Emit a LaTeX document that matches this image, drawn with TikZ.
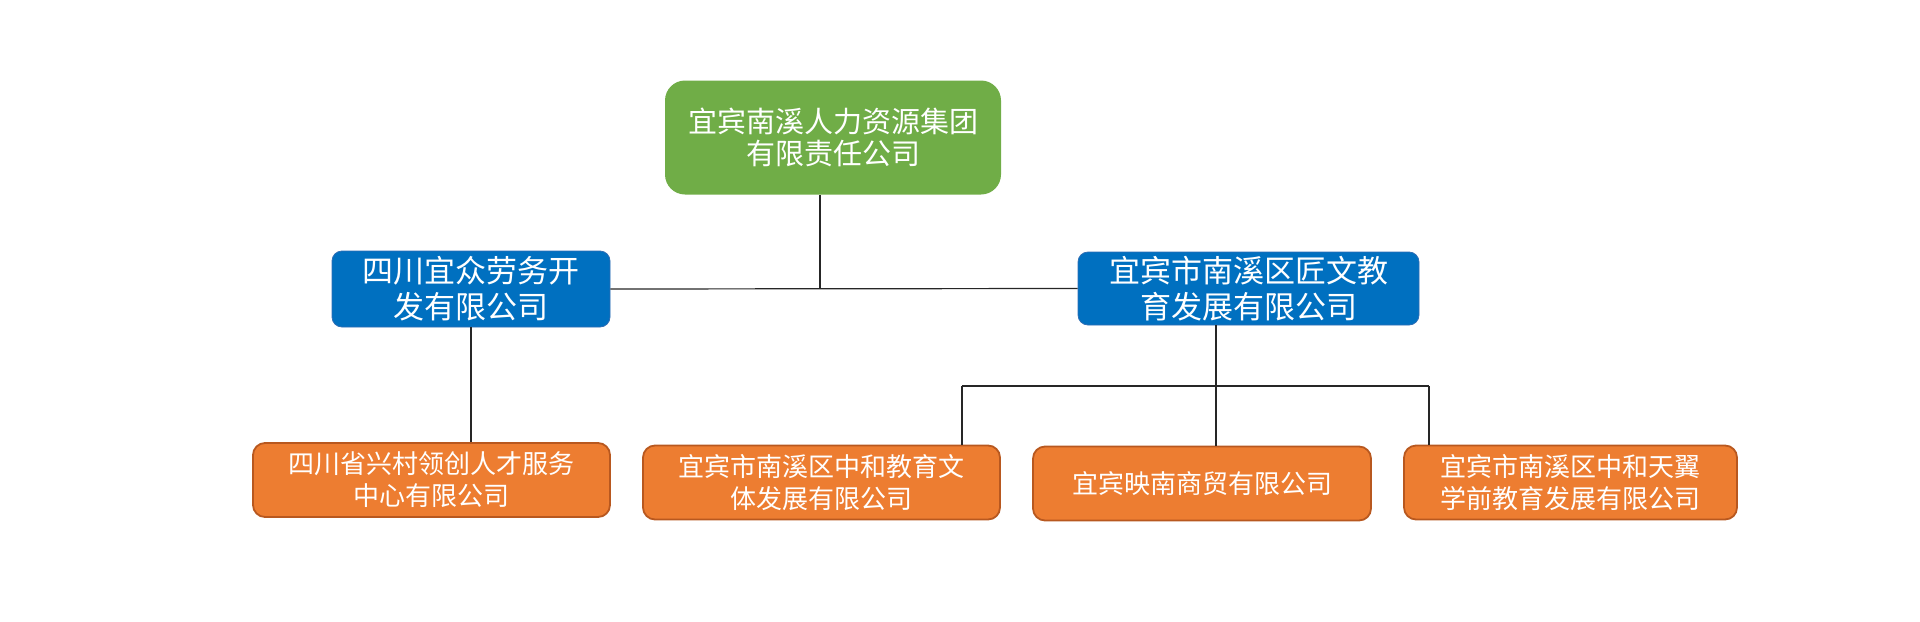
\documentclass[tikz,border=0pt]{standalone}
\usepackage{fontspec}
\setmainfont{Noto Sans CJK SC}
\usetikzlibrary{calc, positioning}

\definecolor{groupgreen}{HTML}{70AD47}
\definecolor{subblue}{HTML}{0070C0}
\definecolor{subblueline}{HTML}{2E6DB4}
\definecolor{unitorange}{HTML}{ED7D31}
\definecolor{unitorangeline}{HTML}{B8581F}
\definecolor{linkgray}{HTML}{262626}

\begin{document}
\begin{tikzpicture}[
    x=0.5pt, y=-0.5pt,
    every node/.style={
            rectangle,
            align=center,
            text=white,
            inner sep=0pt
        },
    group_block/.style={
            fill=groupgreen,
            rounded corners=10pt,
            minimum width=168pt,
            minimum height=57pt,
            font=\fontsize{14.5}{16}\selectfont
        },
    company_block/.style={
            fill=subblue,
            draw=subblueline,
            line width=0.4pt,
            rounded corners=5pt,
            font=\fontsize{15.5}{18}\selectfont
        },
    unit_block/.style={
            fill=unitorange,
            draw=unitorangeline,
            line width=0.9pt,
            rounded corners=6pt,
            minimum height=37pt,
            font=\fontsize{13}{16}\selectfont
        },
    link/.style={draw=linkgray, line width=0.6pt}
    ]

    \useasboundingbox (0,0) rectangle (1920,621);

    % --- Group ---
    \node (group) [group_block] at (833,137.5) {宜宾南溪人力资源集团\\有限责任公司};

    % --- Companies ---
    \node (labour) [company_block, minimum width=139pt, minimum height=38pt] at (471,289) {四川宜众劳务开\\发有限公司};
    \node (education) [company_block, minimum width=170.5pt, minimum height=36.5pt] at (1248.5,288.5) {宜宾市南溪区匠文教\\育发展有限公司};

    % --- Units ---
    \node (xingcun) [unit_block, minimum width=178.5pt] at (431.5,480) {四川省兴村领创人才服务\\中心有限公司};
    \node (zhonghe_culture) [unit_block, minimum width=178.5pt] at (821.5,482.5) {宜宾市南溪区中和教育文\\体发展有限公司};
    \node (yingnan) [unit_block, minimum width=169pt] at (1202,483.5) {宜宾映南商贸有限公司};
    \node (tianyi) [unit_block, minimum width=166.5pt] at (1570.5,482.5) {宜宾市南溪区中和天翼\\学前教育发展有限公司};

    % --- Junctions ---
    \coordinate (hub) at (820,289);
    \coordinate (bus_left) at (962,386);
    \coordinate (bus_mid) at (1216,386);
    \coordinate (bus_right) at (1429,386);

    % --- Links ---
    \draw[link] (group.south -| hub) -- (hub);
    \draw[link] (labour.east) -- (education.west);
    \draw[link] (labour.south) -- (labour.south |- xingcun.north);
    \draw[link] (education.south -| bus_mid) -- (bus_mid);
    \draw[link] (bus_left) -- (bus_right);
    \draw[link] (bus_left) -- (bus_left |- zhonghe_culture.north);
    \draw[link] (bus_mid) -- (bus_mid |- yingnan.north);
    \draw[link] (bus_right) -- (bus_right |- tianyi.north);

\end{tikzpicture}
\end{document}
